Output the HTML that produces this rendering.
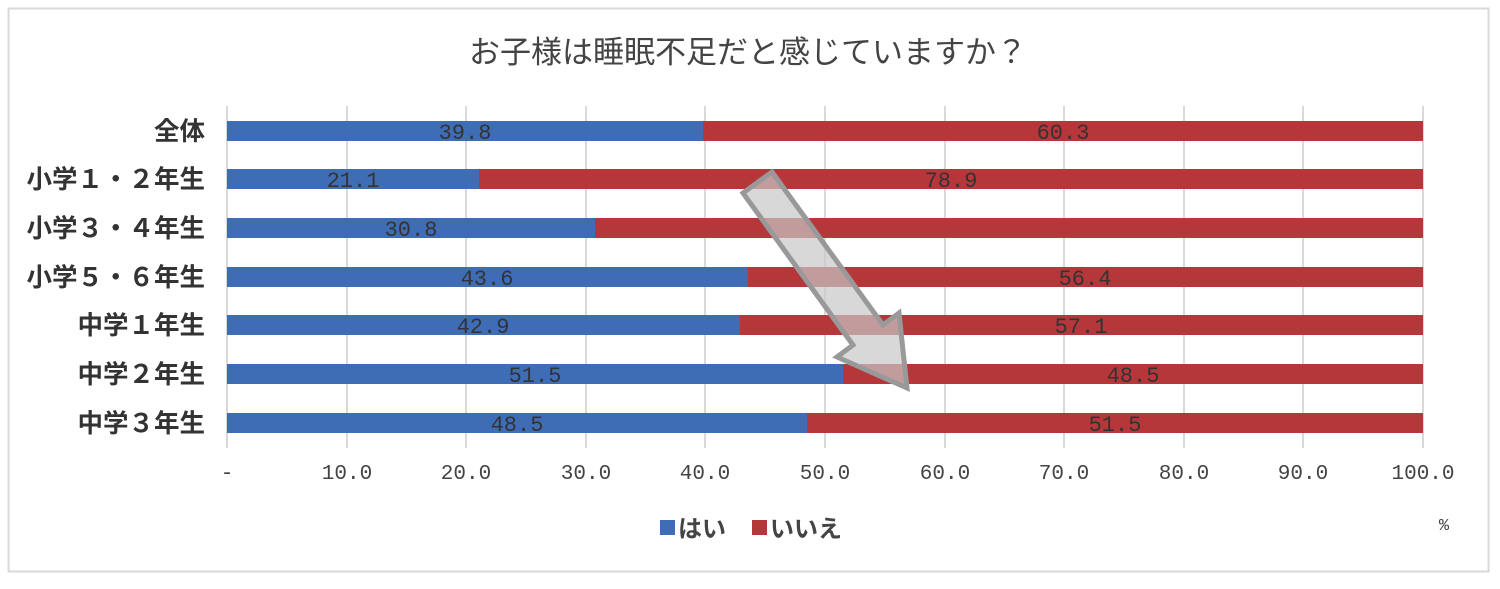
<!DOCTYPE html>
<html><head><meta charset="utf-8"><style>
body{margin:0;background:#fff;width:1500px;height:584px;overflow:hidden}
text{font-family:"Liberation Sans","Noto Sans CJK JP",sans-serif}
text.m{font-family:"Liberation Mono",monospace}
</style></head><body>
<svg width="1500" height="584" xmlns="http://www.w3.org/2000/svg">
<rect x="8.5" y="8.5" width="1480" height="563" fill="#fff" stroke="#d9d9d9" stroke-width="2"/>
<text x="748" y="63" font-size="31" fill="#444" text-anchor="middle">お子様は睡眠不足だと感じていますか？</text>
<g stroke="#d9d9d9" stroke-width="2">
<line x1="227" y1="106" x2="227" y2="448"/><line x1="347" y1="106" x2="347" y2="448"/><line x1="466" y1="106" x2="466" y2="448"/><line x1="586" y1="106" x2="586" y2="448"/><line x1="705" y1="106" x2="705" y2="448"/><line x1="825" y1="106" x2="825" y2="448"/><line x1="945" y1="106" x2="945" y2="448"/><line x1="1064" y1="106" x2="1064" y2="448"/><line x1="1184" y1="106" x2="1184" y2="448"/><line x1="1303" y1="106" x2="1303" y2="448"/><line x1="1423" y1="106" x2="1423" y2="448"/>
</g>
<g font-size="25.5" fill="#333" font-weight="bold" text-anchor="end">
<text x="205" y="140">全体</text><text x="205" y="188">小学１・２年生</text><text x="205" y="237">小学３・４年生</text><text x="205" y="286">小学５・６年生</text><text x="205" y="334">中学１年生</text><text x="205" y="383">中学２年生</text><text x="205" y="432">中学３年生</text>
</g>
<g>
<rect x="227" y="121" width="476" height="20" fill="#3e6db5"/><rect x="703" y="121" width="720" height="20" fill="#b5373a"/>
<rect x="227" y="169" width="252" height="20" fill="#3e6db5"/><rect x="479" y="169" width="944" height="20" fill="#b5373a"/>
<rect x="227" y="218" width="368" height="20" fill="#3e6db5"/><rect x="595" y="218" width="828" height="20" fill="#b5373a"/>
<rect x="227" y="267" width="521" height="20" fill="#3e6db5"/><rect x="748" y="267" width="675" height="20" fill="#b5373a"/>
<rect x="227" y="315" width="513" height="20" fill="#3e6db5"/><rect x="740" y="315" width="683" height="20" fill="#b5373a"/>
<rect x="227" y="364" width="616" height="20" fill="#3e6db5"/><rect x="843" y="364" width="580" height="20" fill="#b5373a"/>
<rect x="227" y="413" width="580" height="20" fill="#3e6db5"/><rect x="807" y="413" width="616" height="20" fill="#b5373a"/>
</g>
<g font-size="22" fill="#333" text-anchor="middle">
<text class="m" x="465" y="139">39.8</text><text class="m" x="1063" y="139">60.3</text>
<text class="m" x="353" y="187">21.1</text><text class="m" x="951" y="187">78.9</text>
<text class="m" x="411" y="236">30.8</text>
<text class="m" x="487" y="285">43.6</text><text class="m" x="1085" y="285">56.4</text>
<text class="m" x="483" y="333">42.9</text><text class="m" x="1081" y="333">57.1</text>
<text class="m" x="535" y="382">51.5</text><text class="m" x="1133" y="382">48.5</text>
<text class="m" x="517" y="431">48.5</text><text class="m" x="1115" y="431">51.5</text>
</g>
<polygon points="772,172 743,193 853,345 837,357 907,388 899,313 883,325" fill="rgba(200,200,200,0.7)" stroke="#999" stroke-width="5" stroke-linejoin="miter"/>
<g font-size="21" fill="#444" text-anchor="middle">
<text class="m" x="227" y="479">-</text><text class="m" x="347" y="479">10.0</text><text class="m" x="466" y="479">20.0</text><text class="m" x="586" y="479">30.0</text><text class="m" x="705" y="479">40.0</text><text class="m" x="825" y="479">50.0</text><text class="m" x="945" y="479">60.0</text><text class="m" x="1064" y="479">70.0</text><text class="m" x="1184" y="479">80.0</text><text class="m" x="1303" y="479">90.0</text><text class="m" x="1423" y="479">100.0</text>
</g>
<text class="m" x="1444" y="530" font-size="17" fill="#444" text-anchor="middle">%</text>
<rect x="660" y="520" width="15" height="15" fill="#3e6db5"/>
<text x="678" y="537" font-size="24" fill="#444" font-weight="bold">はい</text>
<rect x="752" y="520" width="15" height="15" fill="#b5373a"/>
<text x="770" y="537" font-size="24" fill="#444" font-weight="bold">いいえ</text>
</svg>
</body></html>
